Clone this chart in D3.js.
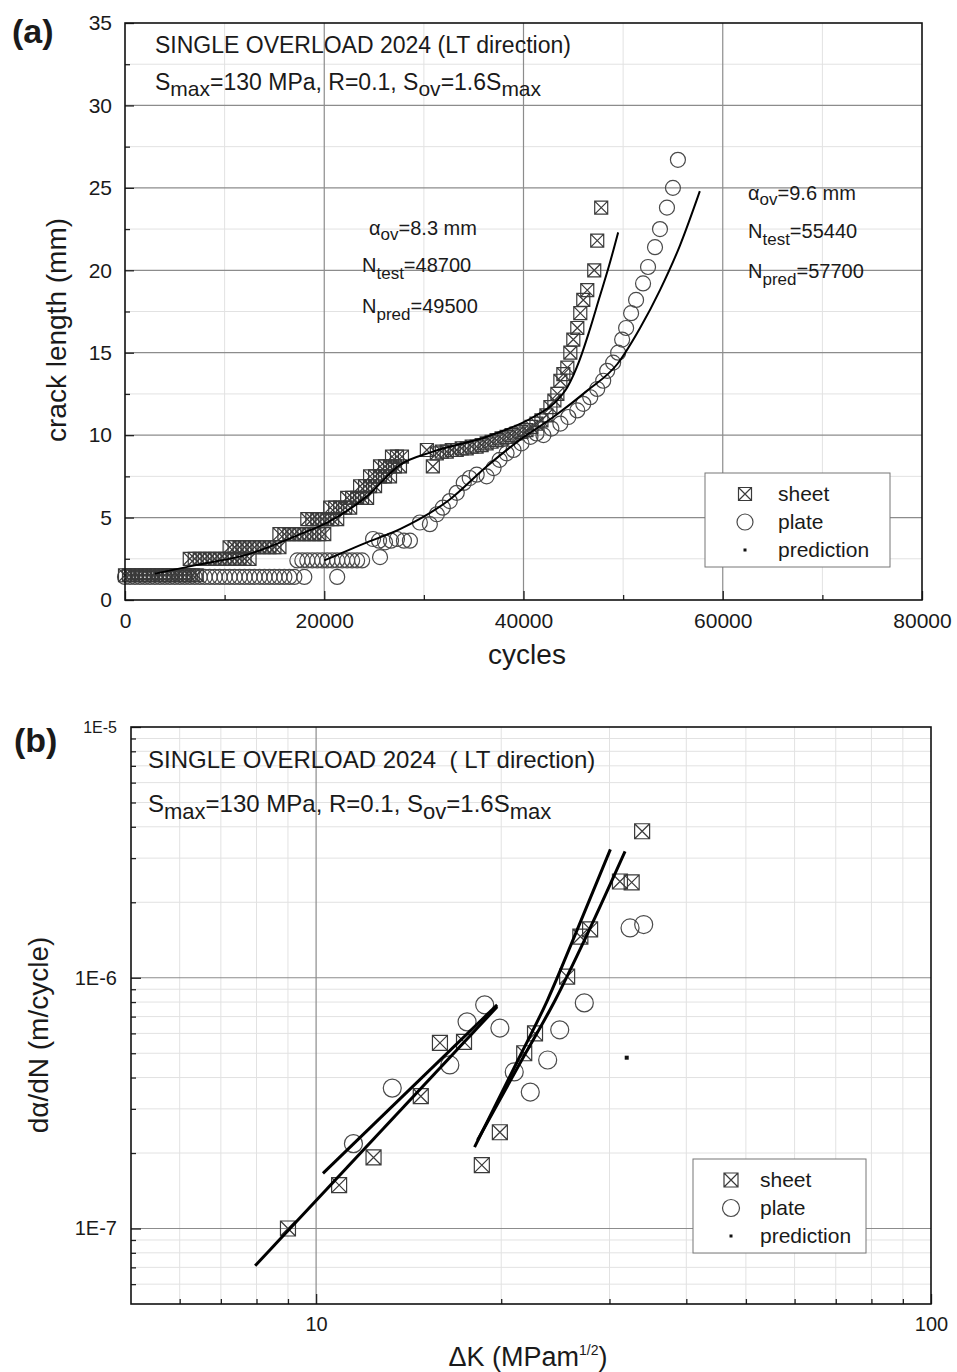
<!DOCTYPE html>
<html><head><meta charset="utf-8">
<script src="https://cdn.jsdelivr.net/npm/d3@7"></script>
<style>
body{margin:0;background:#fff;}
svg{display:block;font-family:"Liberation Sans",Arial,Helvetica,sans-serif;}
</style></head><body>
<svg id="chart" width="957" height="1372"></svg>
<script>
// ---------------- DATA: panel (a) crack length vs cycles ----------------
const xTicksA = [0, 20000, 40000, 60000, 80000];
const xTickLabelsA = ["0", "20000", "40000", "60000", "80000"];
const xMinorA = [10000, 30000, 50000, 70000];
const yTicksA = [0, 5, 10, 15, 20, 25, 30, 35];
const yTickLabelsA = ["0", "5", "10", "15", "20", "25", "30", "35"];
const yMinorA = [2.5, 7.5, 12.5, 17.5, 22.5, 27.5, 32.5];

// sheet test data [cycles, crack length mm]
const sheetA = [
  [0,1.5],[400,1.5],[800,1.5],[1200,1.5],[1600,1.5],[2000,1.5],[2400,1.5],[2800,1.5],[3200,1.5],[3600,1.5],
  [4000,1.5],[4400,1.5],[4800,1.5],[5200,1.5],[5600,1.5],[6000,1.5],[6400,1.5],[6800,1.5],[7200,1.5],
  [6500,2.5],[7000,2.5],[7500,2.5],[8000,2.5],[8500,2.5],[9000,2.5],[9500,2.5],[10000,2.5],[10500,2.5],[11000,2.5],[11500,2.5],[12000,2.5],[12500,2.5],
  [10500,3.2],[11000,3.2],[11500,3.2],[12000,3.2],[12500,3.2],[13000,3.2],[13500,3.2],[14000,3.2],[14500,3.2],[15000,3.2],[15500,3.2],
  [15500,4.0],[16000,4.0],[16500,4.0],[17000,4.0],[17500,4.0],[18000,4.0],[18500,4.0],[19000,4.0],[19500,4.0],[20000,4.0],
  [18300,4.9],[18800,4.9],[19300,4.9],[19800,4.9],[20300,4.9],[20800,4.9],[21300,4.9],
  [20600,5.6],[21100,5.6],[21600,5.6],[22100,5.6],[22600,5.6],
  [22300,6.2],[22800,6.2],[23300,6.2],[23800,6.2],[24300,6.2],
  [23600,6.9],[24100,6.9],[24600,6.9],[25100,6.9],
  [24600,7.5],[25100,7.5],[25600,7.5],[26100,7.5],[26600,7.5],
  [25600,8.1],[26100,8.1],[26600,8.1],[27100,8.1],[27600,8.1],
  [26800,8.7],[27300,8.7],[27800,8.7],
  [30300,9.1],[30900,8.1],[31300,8.9],[31800,9.0],[32300,9.0],[32800,9.1],[33300,9.1],[33800,9.2],
  [34300,9.2],[34800,9.3],[35300,9.3],[35800,9.4],[36300,9.5],
  [36800,9.6],[37300,9.7],[37800,9.8],[38300,9.9],[38800,10.0],[39300,10.1],[39800,10.2],[40300,10.3],
  [40800,10.5],[41300,10.7],[41800,10.9],[42300,11.2],[42700,11.7],[43100,12.1],[43400,12.5],[43700,13.3],
  [44000,13.7],[44400,14.1],[44700,15.0],[45000,15.8],[45400,16.5],[45700,17.4],[46000,18.2],[46400,18.8],
  [47100,20.0],[47400,21.8],[47800,23.8]
];

// plate test data [cycles, crack length mm]
const plateA = [
  [0,1.4],[500,1.4],[1000,1.4],[1500,1.4],[2000,1.4],[2500,1.4],[3000,1.4],[3500,1.4],[4000,1.4],[4500,1.4],
  [5000,1.4],[5500,1.4],[6000,1.4],[6500,1.4],[7000,1.4],[7500,1.4],[8000,1.4],[8500,1.4],[9000,1.4],[9500,1.4],
  [10000,1.4],[10500,1.4],[11000,1.4],[11500,1.4],[12000,1.4],[12500,1.4],[13000,1.4],[13500,1.4],[14000,1.4],
  [14500,1.4],[15000,1.4],[15500,1.4],[16000,1.4],[16500,1.4],[17000,1.4],[18000,1.4],[21300,1.4],
  [17300,2.4],[17800,2.4],[18300,2.4],[18800,2.4],[19300,2.4],[19800,2.4],[20300,2.4],[20800,2.4],[21300,2.4],
  [21800,2.4],[22300,2.4],[22800,2.4],[23300,2.4],[23800,2.4],[25600,2.6],
  [24900,3.7],[25500,3.6],[26100,3.5],[26700,3.6],[27300,3.7],[28000,3.6],[28600,3.6],[29600,4.7],[30600,4.6],
  [31300,5.2],[31900,5.6],[32600,6.0],[33300,6.5],[34000,7.1],[34600,7.4],[35300,7.6],[36300,7.5],[37000,8.0],
  [37600,8.5],[38300,8.9],[39000,9.1],[39800,9.5],[40700,9.9],[41300,10.1],[42000,10.0],[42800,10.4],[43700,10.7],
  [44500,11.1],[45400,11.5],[46000,11.9],[46700,12.3],[47400,12.8],[48000,13.3],[48400,13.9],[49000,14.4],
  [49500,15.0],[49900,15.8],[50300,16.5],[50800,17.4],[51300,18.2],[52000,19.2],[52500,20.2],[53200,21.4],
  [53700,22.5],[54400,23.8],[55000,25.0],[55500,26.7]
];

// predictions [cycles, crack length mm]
const predSheetA = [
  [3000,1.6],[7000,2.1],[12500,2.8],[17600,4.0],[20300,4.7],[24300,6.3],[27600,8.2],[30900,9.0],
  [36300,9.9],[41000,11.1],[43000,11.9],[44400,12.9],[45600,14.5],[46600,16.3],[47600,18.3],[48600,20.3],[49500,22.3]
];
const predPlateA = [
  [20000,2.4],[24300,3.5],[27600,4.3],[32600,6.1],[36300,8.1],[39600,9.7],[43000,11.1],[46400,12.7],
  [49400,14.3],[51700,16.5],[53700,18.8],[55700,21.5],[57700,24.8]
];

// ---------------- DATA: panel (b) da/dN vs ΔK ----------------
const xTicksB = [10, 100];
const xTickLabelsB = ["10", "100"];
const xMinorB = [6,7,8,9,20,30,40,50,60,70,80,90];
const yTicksB = [1e-7, 1e-6, 1e-5];
const yTickLabelsB = ["1E-7", "1E-6", "1E-5"];
const yMinorB = [6e-8,7e-8,8e-8,9e-8,2e-7,3e-7,4e-7,5e-7,6e-7,7e-7,8e-7,9e-7,2e-6,3e-6,4e-6,5e-6,6e-6,7e-6,8e-6,9e-6];

const sheetB = [
  [9.0,1.0e-7],[10.9,1.49e-7],[12.4,1.92e-7],[14.8,3.37e-7],[15.9,5.5e-7],[17.4,5.55e-7],[18.6,1.79e-7],
  [19.9,2.42e-7],[21.8,5.0e-7],[22.7,6.0e-7],[25.6,1.01e-6],[26.9,1.46e-6],[27.9,1.56e-6],[31.2,2.42e-6],
  [32.6,2.40e-6],[33.9,3.84e-6]
];
const plateB = [
  [11.5,2.18e-7],[13.3,3.63e-7],[16.5,4.49e-7],[17.6,6.67e-7],[18.8,7.8e-7],[19.9,6.3e-7],[21.0,4.21e-7],
  [22.3,3.5e-7],[23.8,4.7e-7],[24.9,6.2e-7],[27.3,7.94e-7],[32.4,1.58e-6],[34.1,1.63e-6]
];
const predDotB = [[32.0,4.8e-7]];
const predLine1B = [[7.96,7.11e-8],[19.7,7.66e-7]];
const predLine2B = [[10.26,1.66e-7],[19.7,7.8e-7]];
const predLine3B = [[18.1,2.11e-7],[21.3,4.70e-7],[23.8,8.17e-7],[26.6,1.56e-6],[30.1,3.25e-6]];
const predLine4B = [[18.3,2.25e-7],[21.6,4.70e-7],[24.5,8.17e-7],[27.6,1.49e-6],[31.8,3.19e-6]];

const legendLabels = ["sheet", "plate", "prediction"];

// ---------------- DRAWING ----------------
const svg = d3.select("#chart");
const FONT = '"Liberation Sans",Arial,Helvetica,sans-serif';
const MAJOR = "#8c8c8c", MINOR = "#e2e2e2", MARK = "#3a3a3a";

function sheetPath(h){
  return `M${-h},${-h}H${h}V${h}H${-h}Z M${-h},${-h}L${h},${h} M${h},${-h}L${-h},${h}`;
}

function drawSheet(g, data, x, y, h){
  g.append("g").selectAll("path").data(data).join("path")
    .attr("transform", d => `translate(${x(d[0])},${y(d[1])})`)
    .attr("d", sheetPath(h))
    .attr("fill","none").attr("stroke",MARK).attr("stroke-width",1.2);
}
function drawPlate(g, data, x, y, r){
  g.append("g").selectAll("circle").data(data).join("circle")
    .attr("cx", d => x(d[0])).attr("cy", d => y(d[1])).attr("r", r)
    .attr("fill","none").attr("stroke","#4a4a4a").attr("stroke-width",1.2);
}

// parts: strings (normal) and {sub:"..."} (subscript)
function addSubText(g, x, y, parts, size, subSize, subDy){
  const t = g.append("text").attr("x",x).attr("y",y)
    .attr("font-size",size).attr("fill","#1a1a1a").style("white-space","pre");
  let shifted = false;
  parts.forEach(p => {
    if (typeof p === "string") {
      const s = t.append("tspan").text(p);
      if (shifted) { s.attr("dy", -subDy); shifted = false; }
    } else {
      t.append("tspan").attr("dy", subDy).attr("font-size", subSize).text(p.sub);
      shifted = true;
    }
  });
  return t;
}

function legend(g, x0, y0, w, h, sx, tx, ys, markSize, r){
  g.append("rect").attr("x",x0).attr("y",y0).attr("width",w).attr("height",h)
    .attr("fill","#fff").attr("stroke","#777").attr("stroke-width",1);
  g.append("path").attr("transform",`translate(${sx},${ys[0]})`).attr("d",sheetPath(markSize))
    .attr("fill","none").attr("stroke",MARK).attr("stroke-width",1.2);
  g.append("circle").attr("cx",sx).attr("cy",ys[1]).attr("r",r)
    .attr("fill","none").attr("stroke","#4a4a4a").attr("stroke-width",1.2);
  g.append("rect").attr("x",sx-1.5).attr("y",ys[2]-1.5).attr("width",3).attr("height",3).attr("fill","#111");
  legendLabels.forEach((s,i) => {
    g.append("text").attr("x",tx).attr("y",ys[i]).attr("dy","0.35em")
      .attr("font-size",21).attr("fill","#1a1a1a").text(s);
  });
}

// ===== Panel (a) =====
const A = {l:125, r:922, t:23, b:600};
const xA = d3.scaleLinear().domain([0,80000]).range([A.l,A.r]);
const yA = d3.scaleLinear().domain([0,35]).range([A.b,A.t]);
const gA = svg.append("g");

gA.append("g").selectAll("line").data(xMinorA).join("line")
  .attr("x1",d=>xA(d)).attr("x2",d=>xA(d)).attr("y1",A.t).attr("y2",A.b).attr("stroke",MINOR);
gA.append("g").selectAll("line").data(yMinorA).join("line")
  .attr("y1",d=>yA(d)).attr("y2",d=>yA(d)).attr("x1",A.l).attr("x2",A.r).attr("stroke",MINOR);
gA.append("g").selectAll("line").data(xTicksA.slice(1,-1)).join("line")
  .attr("x1",d=>xA(d)).attr("x2",d=>xA(d)).attr("y1",A.t).attr("y2",A.b).attr("stroke",MAJOR).attr("stroke-width",1.2);
gA.append("g").selectAll("line").data(yTicksA.slice(1,-1)).join("line")
  .attr("y1",d=>yA(d)).attr("y2",d=>yA(d)).attr("x1",A.l).attr("x2",A.r).attr("stroke",MAJOR).attr("stroke-width",1.2);

// axes
gA.append("g").attr("transform",`translate(0,${A.b})`)
  .call(d3.axisBottom(xA).tickValues(xTicksA).tickFormat((d,i)=>xTickLabelsA[i]).tickSizeInner(-9).tickSizeOuter(0).tickPadding(13));
gA.append("g").attr("transform",`translate(0,${A.b})`)
  .call(d3.axisBottom(xA).tickValues(xMinorA).tickFormat("").tickSizeInner(-5).tickSizeOuter(0));
gA.append("g").attr("transform",`translate(${A.l},0)`)
  .call(d3.axisLeft(yA).tickValues(yTicksA).tickFormat((d,i)=>yTickLabelsA[i]).tickSizeInner(-9).tickSizeOuter(0).tickPadding(13));
gA.append("g").attr("transform",`translate(${A.l},0)`)
  .call(d3.axisLeft(yA).tickValues(yMinorA).tickFormat("").tickSizeInner(-5).tickSizeOuter(0));
gA.selectAll(".domain").remove();
gA.selectAll(".tick line").attr("stroke","#222").attr("stroke-width",1.3);
gA.selectAll(".tick text").attr("font-size",21).attr("font-family",FONT).attr("fill","#1a1a1a");

// data
const lineA = d3.line().x(d=>xA(d[0])).y(d=>yA(d[1])).curve(d3.curveMonotoneX);
drawPlate(gA, plateA, xA, yA, 7.5);
drawSheet(gA, sheetA, xA, yA, 6.5);
gA.append("path").datum(predSheetA).attr("d",lineA).attr("fill","none").attr("stroke","#000").attr("stroke-width",2);
gA.append("path").datum(predPlateA).attr("d",lineA).attr("fill","none").attr("stroke","#000").attr("stroke-width",2);

// frame
gA.append("rect").attr("x",A.l).attr("y",A.t).attr("width",A.r-A.l).attr("height",A.b-A.t)
  .attr("fill","none").attr("stroke","#111").attr("stroke-width",1.6);

// texts
addSubText(gA, 155, 53, ["SINGLE OVERLOAD 2024 (LT direction)"], 23, 20, 6);
addSubText(gA, 155, 90, ["S",{sub:"max"},"=130 MPa, R=0.1, S",{sub:"ov"},"=1.6S",{sub:"max"}], 23, 21, 6);
addSubText(gA, 369, 235, ["\u03B1",{sub:"ov"},"=8.3 mm"], 20, 17, 5);
addSubText(gA, 362, 272, ["N",{sub:"test"},"=48700"], 20, 17, 7);
addSubText(gA, 362, 313, ["N",{sub:"pred"},"=49500"], 20, 17, 7);
addSubText(gA, 748, 200, ["\u03B1",{sub:"ov"},"=9.6 mm"], 20, 17, 5);
addSubText(gA, 748, 238, ["N",{sub:"test"},"=55440"], 20, 17, 7);
addSubText(gA, 748, 278, ["N",{sub:"pred"},"=57700"], 20, 17, 7);

legend(gA, 705, 473, 185, 94, 745, 778, [494,522,550], 6.5, 8);

gA.append("text").attr("x",527).attr("y",664).attr("text-anchor","middle").attr("font-size",28).attr("fill","#1a1a1a").text("cycles");
gA.append("text").attr("transform","translate(66,330) rotate(-90)").attr("text-anchor","middle")
  .attr("font-size",28).attr("fill","#1a1a1a").text("crack length (mm)");
gA.append("text").attr("x",12).attr("y",43).attr("font-size",34).attr("font-weight","bold").attr("fill","#1a1a1a").text("(a)");

// ===== Panel (b) =====
const B = {l:131, r:931, t:727, b:1304};
const xB = d3.scaleLog().domain([5,100]).range([B.l,B.r]);
const yB = d3.scaleLog().domain([5e-8,1e-5]).range([B.b,B.t]);
const gB = svg.append("g");

gB.append("g").selectAll("line").data(xMinorB).join("line")
  .attr("x1",d=>xB(d)).attr("x2",d=>xB(d)).attr("y1",B.t).attr("y2",B.b).attr("stroke",MINOR);
gB.append("g").selectAll("line").data(yMinorB).join("line")
  .attr("y1",d=>yB(d)).attr("y2",d=>yB(d)).attr("x1",B.l).attr("x2",B.r).attr("stroke",MINOR);
gB.append("g").selectAll("line").data([10]).join("line")
  .attr("x1",d=>xB(d)).attr("x2",d=>xB(d)).attr("y1",B.t).attr("y2",B.b).attr("stroke",MAJOR).attr("stroke-width",1.2);
gB.append("g").selectAll("line").data([1e-7,1e-6]).join("line")
  .attr("y1",d=>yB(d)).attr("y2",d=>yB(d)).attr("x1",B.l).attr("x2",B.r).attr("stroke",MAJOR).attr("stroke-width",1.2);

gB.append("g").attr("transform",`translate(0,${B.b})`)
  .call(d3.axisBottom(xB).tickValues(xTicksB).tickFormat((d,i)=>xTickLabelsB[i]).tickSizeInner(-10).tickSizeOuter(0).tickPadding(13));
gB.append("g").attr("transform",`translate(0,${B.b})`)
  .call(d3.axisBottom(xB).tickValues(xMinorB).tickFormat("").tickSizeInner(-5).tickSizeOuter(0));
const axYB = gB.append("g").attr("transform",`translate(${B.l},0)`)
  .call(d3.axisLeft(yB).tickValues(yTicksB).tickFormat((d,i)=>yTickLabelsB[i]).tickSizeInner(-10).tickSizeOuter(0).tickPadding(14));
gB.append("g").attr("transform",`translate(${B.l},0)`)
  .call(d3.axisLeft(yB).tickValues(yMinorB).tickFormat("").tickSizeInner(-5).tickSizeOuter(0));
gB.selectAll(".domain").remove();
gB.selectAll(".tick line").attr("stroke","#222").attr("stroke-width",1.3);
gB.selectAll(".tick text").attr("font-size",20).attr("font-family",FONT).attr("fill","#1a1a1a");
axYB.selectAll(".tick text").filter(d => d === 1e-5).attr("font-size",16);

const lineB = d3.line().x(d=>xB(d[0])).y(d=>yB(d[1])).curve(d3.curveMonotoneX);
drawSheet(gB, sheetB, xB, yB, 7.5);
drawPlate(gB, plateB, xB, yB, 9);
[predLine1B, predLine2B, predLine3B, predLine4B].forEach(L => {
  gB.append("path").datum(L).attr("d",lineB).attr("fill","none").attr("stroke","#000").attr("stroke-width",3);
});
gB.append("g").selectAll("rect").data(predDotB).join("rect")
  .attr("x",d=>xB(d[0])-2).attr("y",d=>yB(d[1])-2).attr("width",4).attr("height",4).attr("fill","#111");

gB.append("rect").attr("x",B.l).attr("y",B.t).attr("width",B.r-B.l).attr("height",B.b-B.t)
  .attr("fill","none").attr("stroke","#111").attr("stroke-width",1.6);

addSubText(gB, 148, 768, ["SINGLE OVERLOAD 2024  ( LT direction)"], 24, 20, 6);
addSubText(gB, 148, 812, ["S",{sub:"max"},"=130 MPa, R=0.1, S",{sub:"ov"},"=1.6S",{sub:"max"}], 24, 22, 7);

legend(gB, 693, 1159, 173, 94, 731, 760, [1180,1208,1236], 7, 8.5);

const xt = gB.append("text").attr("x",528).attr("y",1366).attr("text-anchor","middle").attr("font-size",27).attr("fill","#1a1a1a");
xt.append("tspan").text("\u0394K (MPam");
xt.append("tspan").attr("dy",-11).attr("font-size",14).text("1/2");
xt.append("tspan").attr("dy",11).text(")");
gB.append("text").attr("transform","translate(48,1035) rotate(-90)").attr("text-anchor","middle")
  .attr("font-size",28).attr("fill","#1a1a1a").text("d\u03B1/dN (m/cycle)");
gB.append("text").attr("x",14).attr("y",752).attr("font-size",34).attr("font-weight","bold").attr("fill","#1a1a1a").text("(b)");
</script>
</body></html>
